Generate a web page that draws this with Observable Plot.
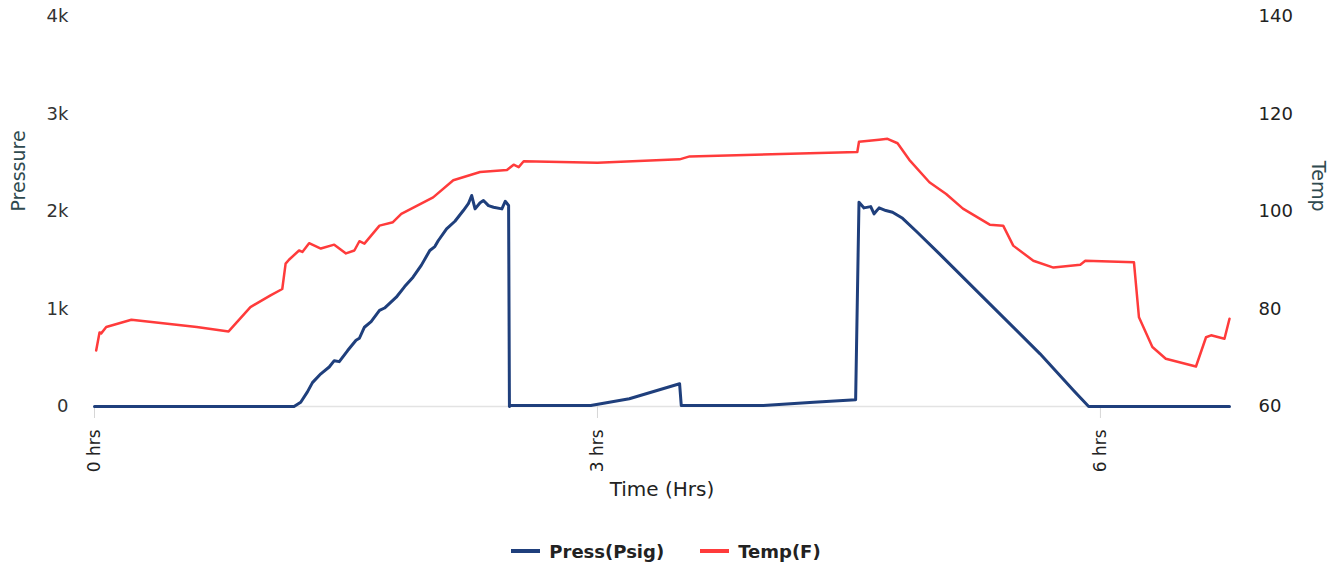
<!DOCTYPE html>
<html>
<head>
<meta charset="utf-8">
<script src="https://cdn.jsdelivr.net/npm/d3@7"></script>
<script src="https://cdn.jsdelivr.net/npm/@observablehq/plot@0.6"></script>
<style>
  html, body { margin: 0; padding: 0; background: #fff; }
  #wrap { position: relative; width: 1340px; height: 510px; }
  #wrap svg { position: absolute; left: 0; top: 0; background: transparent; }
  [aria-label="x-axis tick"] { stroke: #d6d6d6; }
  #legend { display: flex; justify-content: center; align-items: center; margin-top: 30px; height: 22px;
    font-family: "DejaVu Sans", sans-serif; font-weight: bold; font-size: 18px; color: #222; padding-right: 8px; }
  .item { display: flex; align-items: center; margin: 0 18px; }
  .sw { width: 29px; height: 4px; margin-right: 9px; }
</style>
</head>
<body>
<div id="wrap"></div>
<div id="legend"></div>
<script>
// ---- data ----
const pressHours = [0, 1.19, 1.23, 1.27, 1.30, 1.35, 1.40, 1.43, 1.46, 1.51, 1.56, 1.58, 1.61, 1.65, 1.70, 1.73, 1.80, 1.85, 1.90, 1.95, 2.00, 2.03, 2.05, 2.10, 2.15, 2.20, 2.23, 2.25, 2.27, 2.30, 2.32, 2.35, 2.38, 2.43, 2.45, 2.47, 2.475, 2.48, 2.96, 3.19, 3.49, 3.50, 3.99, 4.29, 4.54, 4.56, 4.59, 4.63, 4.65, 4.68, 4.72, 4.76, 4.82, 4.90, 5.04, 5.34, 5.64, 5.84, 5.93, 6.77];
const pressure   = [0, 0,    44,   150,  245,  335,  405,  470,  460,  574,  680,  700,  813,  870,  985,  1010, 1121, 1230, 1326, 1450, 1600, 1640, 1700, 1822, 1900, 2010, 2080, 2164, 2027, 2090, 2113, 2060, 2044, 2027, 2105, 2062, 0,     10,   10,   79,   233,  10,   10,   44,   69,   2095, 2037, 2050, 1976, 2037, 2010, 1992, 1930, 1800, 1566, 1053, 540,  164,  0,    0];

const tempHours = [0.01, 0.03, 0.04, 0.07, 0.22, 0.61, 0.80, 0.93, 1.05, 1.12, 1.14, 1.16, 1.22, 1.24, 1.28, 1.35, 1.43, 1.50, 1.55, 1.58, 1.61, 1.70, 1.78, 1.83, 2.02, 2.14, 2.30, 2.46, 2.50, 2.53, 2.56, 3.00, 3.49, 3.55, 4.55, 4.56, 4.68, 4.73, 4.79, 4.86, 4.98, 5.08, 5.18, 5.34, 5.42, 5.48, 5.60, 5.72, 5.88, 5.91, 6.20, 6.23, 6.31, 6.39, 6.57, 6.63, 6.66, 6.74, 6.77];
const temp      = [71.5, 75.2, 75.0, 76.3, 77.8, 76.3, 75.4, 80.4, 82.8, 84.1, 89.3, 90.1, 92.0, 91.7, 93.5, 92.4, 93.2, 91.4, 92.0, 93.9, 93.4, 97.1, 97.8, 99.5, 102.9, 106.4, 108.1, 108.5, 109.6, 109.1, 110.3, 110.0, 110.7, 111.3, 112.2, 114.3, 114.7, 114.9, 114.0, 110.6, 106.0, 103.6, 100.6, 97.3, 97.1, 93.0, 89.9, 88.5, 89.1, 89.9, 89.6, 78.3, 72.2, 69.8, 68.2, 74.2, 74.6, 73.9, 78.0];

const xTicks = [0, 3, 6];
const pressTicks = [0, 1000, 2000, 3000, 4000];
const tempTicks = [60, 80, 100, 120, 140];

const seriesNames = ["Press(Psig)", "Temp(F)"];
const seriesColors = ["#1f3f7c", "#ff3b3b"];

// ---- tables ----
const pressData = pressHours.map((h, i) => ({h, v: pressure[i]}));
const tempData = tempHours.map((h, i) => ({h, v: temp[i]}));

const W = 1340, H = 510;
const common = {
  width: W, height: H,
  marginLeft: 94, marginRight: 111, marginTop: 16, marginBottom: 104,
  style: {fontFamily: "DejaVu Sans, sans-serif", background: "transparent", color: "#333"}
};
const xDomain = [0, 6.77];

const p1 = Plot.plot({
  ...common,
  x: {domain: xDomain, axis: null},
  y: {domain: [0, 4000], axis: null},
  marks: [
    Plot.ruleY([0], {stroke: "#e3e3e3", strokeWidth: 1.5}),
    Plot.axisX({ticks: xTicks, tickFormat: d => d + " hrs", tickRotate: -90, tickSize: 12, tickPadding: 11, fontSize: 17, label: null, fill: "#222"}),
    Plot.axisY({ticks: pressTicks, tickFormat: d => d === 0 ? "0" : (d / 1000) + "k", tickSize: 0, tickPadding: 26, fontSize: 18, label: null, fill: "#333"}),
    Plot.text(["Pressure"], {text: d => d, frameAnchor: "left", dx: -76, rotate: -90, fontSize: 19, fill: "#2f4a4f"}),
    Plot.text(["Time (Hrs)"], {text: d => d, frameAnchor: "bottom", dy: 89, fontSize: 20, fill: "#222"}),
    Plot.line(pressData, {x: "h", y: "v", stroke: seriesColors[0], strokeWidth: 3, strokeLinejoin: "round"})
  ]
});

const p2 = Plot.plot({
  ...common,
  x: {domain: xDomain, axis: null},
  y: {domain: [60, 140], axis: null},
  marks: [
    Plot.axisY({anchor: "right", ticks: tempTicks, tickSize: 0, tickPadding: 29, fontSize: 18, label: null, fill: "#222"}),
    Plot.text(["Temp"], {text: d => d, frameAnchor: "right", dx: 89, rotate: 90, fontSize: 19, fill: "#2f4a4f"}),
    Plot.line(tempData, {x: "h", y: "v", stroke: seriesColors[1], strokeWidth: 2.5, strokeLinejoin: "round"})
  ]
});

const wrap = document.getElementById("wrap");
wrap.appendChild(p2);
wrap.appendChild(p1);

const legend = document.getElementById("legend");
seriesNames.forEach((name, i) => {
  const it = document.createElement("div");
  it.className = "item";
  const sw = document.createElement("span");
  sw.className = "sw";
  sw.style.background = seriesColors[i];
  const t = document.createElement("span");
  t.textContent = name;
  it.appendChild(sw); it.appendChild(t);
  legend.appendChild(it);
});
</script>
</body>
</html>
